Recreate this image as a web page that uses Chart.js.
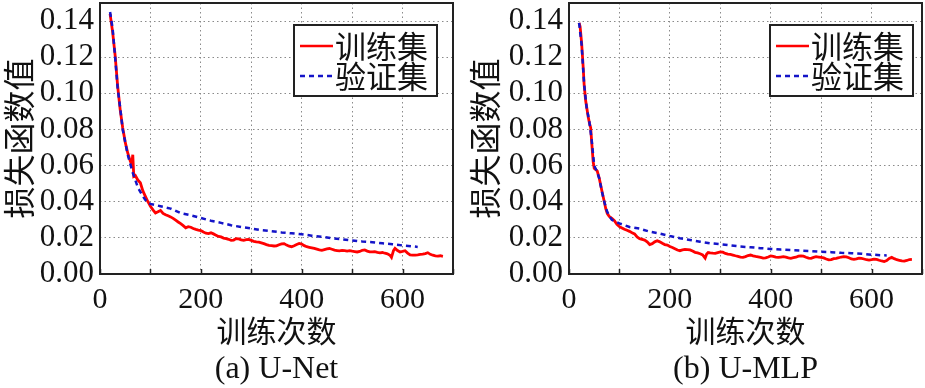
<!DOCTYPE html>
<html>
<head>
<meta charset="utf-8">
<script src="https://cdn.jsdelivr.net/npm/chart.js@4.4.1/dist/chart.umd.min.js"></script>
<style>
    html, body { margin: 0; padding: 0; background: #fff; }
    #wrap { position: relative; width: 925px; height: 388px; overflow: hidden; }
    #wrap canvas { position: absolute; top: 0; }
</style>
</head>
<body>
<div id="wrap">
    <canvas id="chartA" width="462" height="388" style="left:0"></canvas>
    <canvas id="chartB" width="463" height="388" style="left:462px"></canvas>
</div>
<script>
// Dane: (a) U-Net, (b) U-MLP
const xTicks = [0, 100, 200, 300, 400, 500, 600, 700];
const yTicks = [0, 0.02, 0.04, 0.06, 0.08, 0.10, 0.12, 0.14];
const seriesNames = ['训练集', '验证集'];
const captions = ['(a) U-Net', '(b) U-MLP'];

// U-Net — zbiór treningowy
const unetTrainEpochs = [20, 25, 30, 35, 40, 45, 50, 55, 60, 63, 65, 67, 70, 75, 80, 85, 90, 95, 100,
    105, 110, 115, 120, 125, 130, 135, 140, 145, 150, 155, 160, 165, 170, 175, 180, 185, 190, 195, 200,
    205, 210, 215, 220, 225, 230, 235, 240, 245, 250, 255, 260, 265, 270, 275, 280, 285, 290, 295, 300,
    305, 310, 315, 320, 325, 330, 335, 340, 345, 350, 355, 360, 365, 370, 375, 380, 385, 390, 395, 400,
    405, 410, 415, 420, 425, 430, 435, 440, 445, 450, 455, 460, 465, 470, 475, 480, 485, 490, 495, 500,
    505, 510, 515, 520, 525, 530, 535, 540, 545, 550, 555, 560, 565, 570, 575, 578, 582, 585, 590, 595, 600,
    605, 610, 615, 620, 625, 630, 635, 640, 645, 650, 655, 660, 665, 670, 675, 680];
const unetTrainLoss = [0.144, 0.134, 0.121, 0.104, 0.091, 0.081, 0.073, 0.067, 0.0625, 0.0605, 0.066, 0.054, 0.0545, 0.052, 0.0505, 0.046, 0.043, 0.040, 0.0375,
    0.0355, 0.0338, 0.0345, 0.0352, 0.0335, 0.0328, 0.0322, 0.0316, 0.0308, 0.0298, 0.0288, 0.0279, 0.0268, 0.0256, 0.0262, 0.0259, 0.0252, 0.0247, 0.0243, 0.0240,
    0.0232, 0.0226, 0.0224, 0.0228, 0.0222, 0.0215, 0.0208, 0.0205, 0.0199, 0.0196, 0.0192, 0.0186, 0.0188, 0.0196, 0.0194, 0.0189, 0.0186, 0.0190, 0.0191, 0.0186,
    0.0181, 0.0178, 0.0176, 0.0172, 0.0168, 0.0163, 0.0159, 0.0157, 0.0155, 0.0156, 0.0162, 0.0167, 0.0168, 0.0160, 0.0154, 0.0151, 0.0156, 0.0163, 0.0169, 0.0166,
    0.0157, 0.0151, 0.0148, 0.0145, 0.0142, 0.0138, 0.0134, 0.0131, 0.0135, 0.0139, 0.0141, 0.0137, 0.0132, 0.0130, 0.0128, 0.0131, 0.0129, 0.0127, 0.0129, 0.0126,
    0.0124, 0.0122, 0.0125, 0.0131, 0.0133, 0.0127, 0.0123, 0.0122, 0.0124, 0.0120, 0.0117, 0.0119, 0.0115, 0.0112, 0.0104, 0.0092, 0.0130, 0.0142, 0.0130, 0.0122, 0.0125,
    0.0129, 0.0116, 0.0106, 0.0104, 0.0105, 0.0106, 0.0108, 0.0110, 0.0113, 0.0118, 0.0109, 0.0104, 0.0100, 0.0099, 0.0101, 0.0098];

// U-Net — zbiór walidacyjny
const unetValEpochs = [20, 25, 30, 35, 40, 45, 50, 55, 60, 65, 70, 75, 80, 85, 90, 95, 100, 120, 140, 160, 180, 200,
    220, 240, 260, 280, 300, 320, 340, 360, 380, 400, 420, 440, 460, 480, 500, 520, 540, 560, 580, 600, 620, 630];
const unetValLoss = [0.145, 0.136, 0.120, 0.103, 0.092, 0.080, 0.073, 0.066, 0.061, 0.056, 0.052, 0.048, 0.0455, 0.043, 0.041, 0.0395, 0.0388, 0.0375, 0.0362, 0.0337, 0.0325, 0.0310,
    0.0295, 0.0283, 0.0270, 0.0260, 0.0252, 0.0243, 0.0237, 0.0230, 0.0225, 0.0220, 0.0212, 0.0206, 0.0198, 0.0192, 0.0186, 0.0180, 0.0176, 0.0170, 0.0165, 0.0158, 0.0153, 0.0150];

// U-MLP — zbiór treningowy
const umlpTrainEpochs = [20, 22, 25, 28, 30, 33, 38, 41, 43, 45, 48, 50, 53, 56, 60, 63, 66, 70, 73, 76, 80, 85, 90, 95, 100,
    105, 110, 115, 120, 125, 130, 135, 140, 145, 150, 155, 160, 165, 170, 175, 180, 185, 190, 195, 200,
    205, 210, 215, 220, 225, 230, 235, 240, 245, 250, 255, 260, 265, 270, 273, 276, 280, 285, 290, 295, 300,
    305, 310, 315, 320, 325, 330, 335, 340, 345, 350, 355, 360, 365, 370, 375, 380, 385, 390, 395, 400,
    405, 410, 415, 420, 425, 430, 435, 440, 445, 450, 455, 460, 465, 470, 475, 480, 485, 490, 495, 500,
    505, 510, 515, 520, 525, 530, 535, 540, 545, 550, 555, 560, 565, 570, 575, 580, 585, 590, 595, 600,
    605, 610, 615, 620, 625, 630, 635, 640, 645, 650, 655, 660, 665, 670, 675, 680];
const umlpTrainLoss = [0.139, 0.137, 0.128, 0.115, 0.105, 0.096, 0.087, 0.083, 0.081, 0.073, 0.062, 0.0585, 0.0578, 0.0570, 0.053, 0.049, 0.045, 0.040, 0.036, 0.0334, 0.0318, 0.0308, 0.0295, 0.0275, 0.0262,
    0.0255, 0.0248, 0.0242, 0.0236, 0.0228, 0.0222, 0.0205, 0.0196, 0.0192, 0.0188, 0.0178, 0.0163, 0.0168, 0.0178, 0.0184, 0.0178, 0.0170, 0.0163, 0.0160, 0.0152,
    0.0147, 0.0140, 0.0133, 0.0129, 0.0133, 0.0136, 0.0135, 0.0133, 0.0127, 0.0120, 0.0117, 0.0112, 0.0106, 0.0088, 0.0110, 0.0119, 0.0117, 0.0115, 0.0114, 0.0118, 0.0122,
    0.0121, 0.0114, 0.0110, 0.0108, 0.0105, 0.0101, 0.0098, 0.0094, 0.0092, 0.0096, 0.0102, 0.0105, 0.0100, 0.0097, 0.0095, 0.0092, 0.0088, 0.0089, 0.0094, 0.0100,
    0.0097, 0.0093, 0.0092, 0.0094, 0.0096, 0.0093, 0.0089, 0.0087, 0.0090, 0.0093, 0.0099, 0.0100, 0.0099, 0.0093, 0.0088, 0.0087, 0.0092, 0.0096, 0.0094, 0.0092,
    0.0089, 0.0083, 0.0078, 0.0080, 0.0085, 0.0087, 0.0090, 0.0094, 0.0096, 0.0095, 0.0090, 0.0083, 0.0081, 0.0084, 0.0088, 0.0086, 0.0083, 0.0079, 0.0077, 0.0079,
    0.0082, 0.0081, 0.0076, 0.0072, 0.0069, 0.0074, 0.0086, 0.0092, 0.0085, 0.0079, 0.0076, 0.0073, 0.0071, 0.0075, 0.0080, 0.0081];

// U-MLP — zbiór walidacyjny
const umlpValEpochs = [20, 25, 30, 35, 40, 45, 50, 55, 60, 65, 70, 75, 80, 85, 90, 100, 120, 140, 160, 180, 200,
    220, 240, 260, 280, 300, 320, 340, 360, 380, 400, 420, 440, 460, 480, 500, 520, 540, 560, 580, 600, 620, 630];
const umlpValLoss = [0.139, 0.127, 0.105, 0.092, 0.085, 0.074, 0.060, 0.057, 0.053, 0.046, 0.040, 0.035, 0.032, 0.030, 0.0292, 0.0280, 0.0260, 0.0251, 0.0234, 0.0224, 0.0210,
    0.0198, 0.0188, 0.0179, 0.0170, 0.0165, 0.0158, 0.0152, 0.0148, 0.0143, 0.0139, 0.0135, 0.0132, 0.0129, 0.0127, 0.0123, 0.0121, 0.0117, 0.0115, 0.0112, 0.0107, 0.0104, 0.0103];

const SERIF = "'Liberation Serif', 'Times New Roman', serif";
const CJK = "'Noto Sans CJK SC', sans-serif";
const RED = '#ff0000';
const BLUE = '#1414c8';

const toPoints = (xs, ys) => xs.map((x, i) => ({ x, y: ys[i] }));

// Ramka, wewnętrzne kreski osi, legenda i podpis pod wykresem
const framePlugin = {
    id: 'frame',
    afterDraw(chart, args, opts) {
        const { ctx, chartArea: a, scales } = chart;
        ctx.save();
        ctx.strokeStyle = '#222';
        ctx.lineWidth = 2;
        ctx.setLineDash([]);
        ctx.strokeRect(a.left, a.top, a.right - a.left, a.bottom - a.top);
        ctx.lineWidth = 1.5;
        xTicks.forEach(v => {
            const px = Math.round(scales.x.getPixelForValue(v)) + 0.5;
            ctx.beginPath();
            ctx.moveTo(px, a.bottom);
            ctx.lineTo(px, a.bottom - 5);
            ctx.stroke();
        });

        // legenda
        const bw = 143, bh = 71;
        const bx = a.right - opts.legendRight - bw, by = a.top + 22;
        ctx.fillStyle = '#fff';
        ctx.fillRect(bx, by, bw, bh);
        ctx.lineWidth = 2;
        ctx.strokeStyle = '#222';
        ctx.strokeRect(bx, by, bw, bh);
        ctx.font = '31px ' + CJK;
        ctx.textBaseline = 'middle';
        ctx.textAlign = 'left';
        const rows = [{ c: RED, dash: [] }, { c: BLUE, dash: [5, 4] }];
        rows.forEach((r, i) => {
            const y = by + 21 + i * 30;
            ctx.strokeStyle = r.c;
            ctx.lineWidth = 2.5;
            ctx.setLineDash(r.dash);
            ctx.beginPath();
            ctx.moveTo(bx + 6, y);
            ctx.lineTo(bx + 39, y);
            ctx.stroke();
            ctx.setLineDash([]);
            ctx.fillStyle = '#111';
            ctx.fillText(seriesNames[i], bx + 41, y);
        });

        // podpis
        ctx.font = '32px ' + SERIF;
        ctx.textAlign = 'center';
        ctx.fillStyle = '#111';
        ctx.fillText(opts.caption, (a.left + a.right) / 2, 370);
        ctx.restore();
    }
};

function makeChart(canvasId, trainX, trainY, valX, valY, caption, yAxisWidth, padRight, yTitlePad, legendRight) {
    return new Chart(document.getElementById(canvasId), {
        type: 'line',
        data: {
            datasets: [
                {
                    label: seriesNames[1],
                    data: toPoints(valX, valY),
                    borderColor: BLUE,
                    borderWidth: 2.5,
                    borderDash: [5, 4],
                    pointRadius: 0,
                    tension: 0,
                    order: 0
                },
                {
                    label: seriesNames[0],
                    data: toPoints(trainX, trainY),
                    borderColor: RED,
                    borderWidth: 2.8,
                    pointRadius: 0,
                    tension: 0,
                    order: 1
                }
            ]
        },
        options: {
            responsive: false,
            animation: false,
            layout: { padding: { top: 3, right: padRight, left: 0, bottom: 0 } },
            plugins: {
                legend: { display: false },
                tooltip: { enabled: false },
                frame: { caption, legendRight }
            },
            scales: {
                x: {
                    type: 'linear',
                    min: 0,
                    max: 700,
                    afterBuildTicks: s => { s.ticks = xTicks.map(v => ({ value: v })); },
                    afterFit: s => { s.height = 114; s.paddingLeft = 0; s.paddingRight = 0; },
                    ticks: {
                        color: '#111',
                        font: { family: SERIF, size: 30 },
                        padding: 8,
                        maxRotation: 0,
                        autoSkip: false,
                        callback: v => (v % 200 === 0 && v < 700 ? String(v) : '')
                    },
                    grid: { color: '#8a8a8a', lineWidth: 1, drawTicks: false },
                    border: { display: false, dash: [1.5, 3] },
                    title: {
                        display: true,
                        text: '训练次数',
                        color: '#111',
                        font: { family: CJK, size: 30 },
                        padding: { top: 0, bottom: 39 }
                    }
                },
                y: {
                    min: 0,
                    max: 0.15,
                    afterBuildTicks: s => { s.ticks = yTicks.map(v => ({ value: v })); },
                    afterFit: s => { s.width = yAxisWidth; s.paddingTop = 0; s.paddingBottom = 0; },
                    ticks: {
                        color: '#111',
                        font: { family: SERIF, size: 31 },
                        padding: 6,
                        autoSkip: false,
                        callback: v => v.toFixed(2)
                    },
                    grid: { color: '#8a8a8a', lineWidth: 1, drawTicks: false },
                    border: { display: false, dash: [1.5, 3] },
                    title: {
                        display: true,
                        text: '损失函数值',
                        color: '#111',
                        font: { family: CJK, size: 32 },
                        padding: { top: yTitlePad, bottom: 0 }
                    }
                }
            }
        },
        plugins: [framePlugin]
    });
}

makeChart('chartA', unetTrainEpochs, unetTrainLoss, unetValEpochs, unetValLoss, captions[0], 100, 9, 0, 16);
makeChart('chartB', umlpTrainEpochs, umlpTrainLoss, umlpValEpochs, umlpValLoss, captions[1], 107, 3, 4, 9);
</script>
</body>
</html>
